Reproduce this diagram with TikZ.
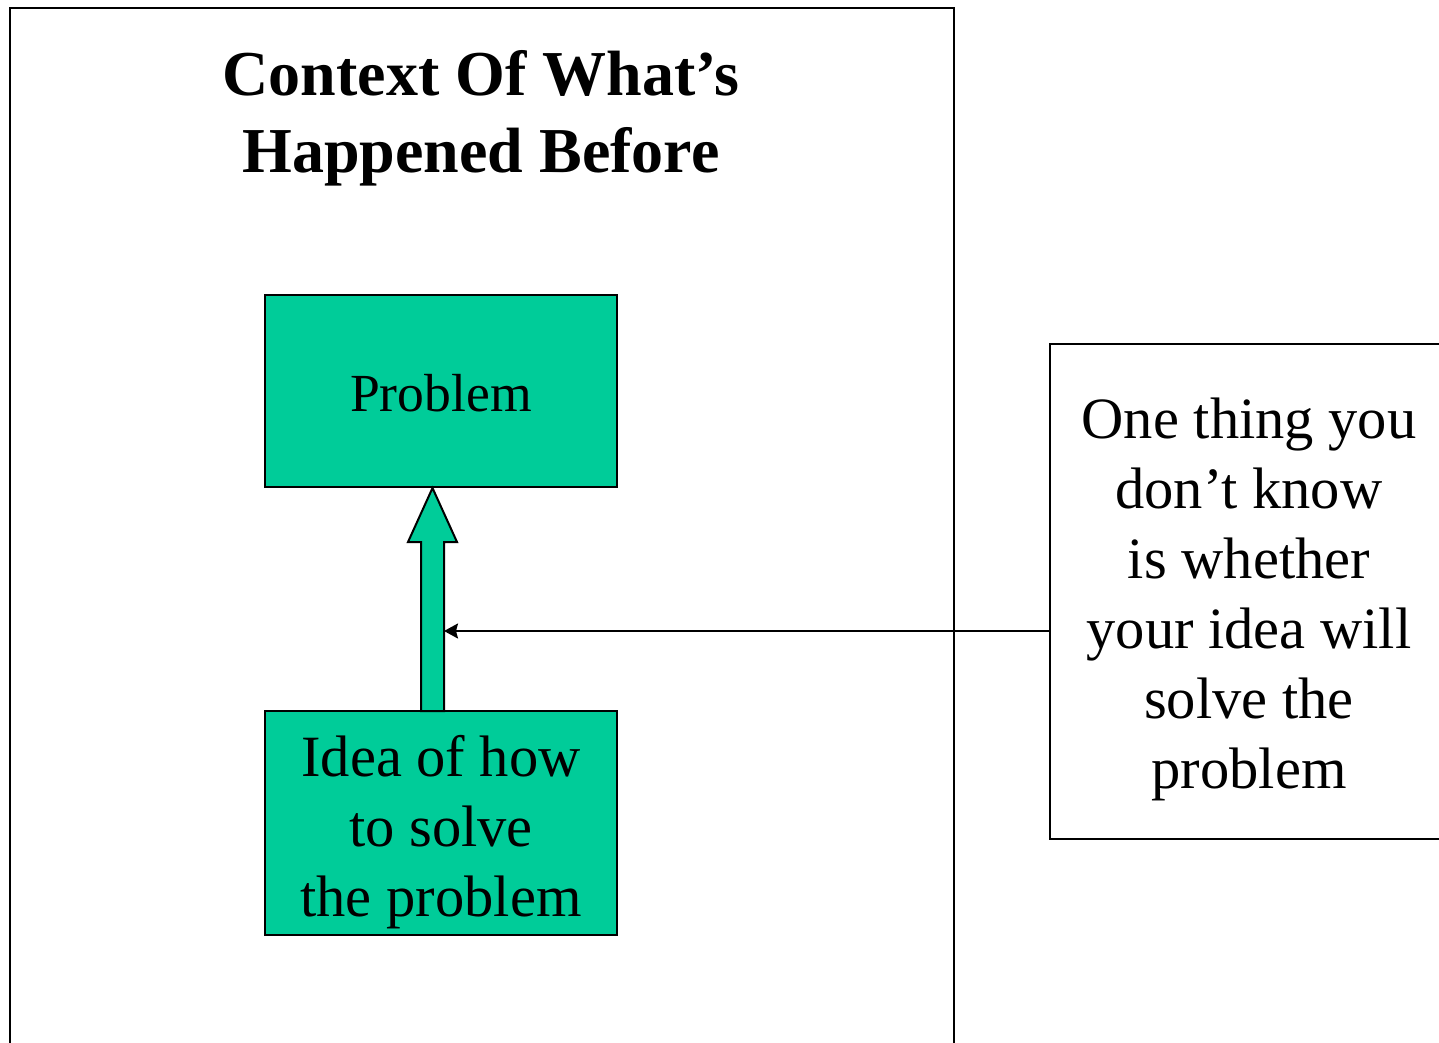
\documentclass[tikz,border=0pt]{standalone}
\usepackage{fontspec}
\setmainfont{Liberation Serif}
\usetikzlibrary{arrows.meta}
\definecolor{sea}{RGB}{0,204,153}
\begin{document}
\begin{tikzpicture}[x=1pt,y=-1pt,
  frame/.style={draw=black, line width=2pt, inner sep=0pt},
  greenbox/.style={draw=black, fill=sea, line width=2pt, minimum width=352pt, align=center, inner sep=0pt},
  bodytext/.style={font=\fontsize{58.5}{70}\selectfont, align=center},
  conn/.style={draw=black, line width=2pt, -{Stealth[length=14pt,width=15pt,inset=2pt]}}]
  \useasboundingbox (0,0) rectangle (1439,1043);
  \clip (0,0) rectangle (1439,1043);
  \fill[white] (0,0) rectangle (1439,1043);

  % outer frame and its heading
  \node[frame, anchor=north west, minimum width=944pt, minimum height=1100pt] (context) at (8.5,7.5) {};
  \node[font=\fontsize{64}{77}\selectfont\bfseries, align=center] (title) at (481,118.5)
    {Context Of What’s\\Happened Before};

  % the two green boxes
  \node[greenbox, minimum height=192pt] (problem) at (441,391) {};
  \node[font=\fontsize{53.6}{70}\selectfont] (problemtext) at (441,393) {Problem};
  \node[greenbox, minimum height=224pt] (idea) at (441,823) {};
  \node[bodytext] (ideatext) at (441,832) {Idea of how\\to solve\\the problem};

  % block arrow from idea up to problem
  \draw[fill=sea, line width=2pt, line join=miter]
    (421,711) -- (421,542) -- (408,542) -- (432.5,488) -- (457,542) -- (444,542) -- (444,711) -- cycle;
  \coordinate (shaftedge) at (444,631);

  % note box on the right
  \node[frame, anchor=north west, minimum width=430pt, minimum height=495pt] (note) at (1049,343) {};
  \node[bodytext] (notetext) at (1249,599)
    {One thing you\\don’t know\\is whether\\your idea will\\solve the\\problem};

  % pointer from the note to the arrow
  \draw[conn] (shaftedge -| note.west) -- (shaftedge);
\end{tikzpicture}
\end{document}
